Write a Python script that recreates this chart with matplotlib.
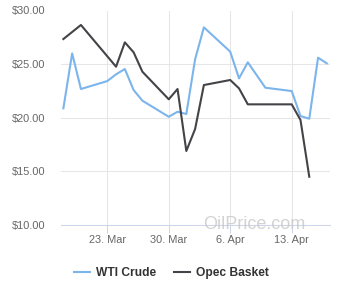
import matplotlib
matplotlib.use("Agg")
import matplotlib.pyplot as plt
import matplotlib.dates as mdates
from matplotlib.lines import Line2D
import pandas as pd

plt.rcParams['font.family'] = ['Liberation Sans', 'DejaVu Sans']

wti_dates = ["2020-03-18", "2020-03-19", "2020-03-20", "2020-03-23", "2020-03-24",
             "2020-03-25", "2020-03-26", "2020-03-27", "2020-03-30", "2020-03-31",
             "2020-04-01", "2020-04-02", "2020-04-03", "2020-04-06", "2020-04-07",
             "2020-04-08", "2020-04-10", "2020-04-13", "2020-04-14", "2020-04-15",
             "2020-04-16", "2020-04-17"]
wti_values = [20.88, 26.00, 22.68, 23.42, 24.05, 24.54, 22.58, 21.59, 20.09, 20.56,
              20.35, 25.45, 28.43, 26.16, 23.67, 25.17, 22.80, 22.49, 20.16, 19.91,
              25.60, 25.07]

opec_dates = ["2020-03-18", "2020-03-20", "2020-03-24", "2020-03-25", "2020-03-26",
              "2020-03-27", "2020-03-30", "2020-03-31", "2020-04-01", "2020-04-02",
              "2020-04-03", "2020-04-06", "2020-04-07", "2020-04-08", "2020-04-13",
              "2020-04-14", "2020-04-15"]
opec_values = [27.34, 28.65, 24.76, 27.03, 26.10, 24.29, 21.72, 22.68, 16.90, 18.95,
               23.05, 23.52, 22.74, 21.25, 21.25, 19.79, 14.50]

series_names = ["WTI Crude", "Opec Basket"]
series_colors = ["#7cb5ec", "#434348"]
y_ticks = [10, 15, 20, 25, 30]
x_tick_dates = ["2020-03-23", "2020-03-30", "2020-04-06", "2020-04-13"]
x_tick_labels = ["23. Mar", "30. Mar", "6. Apr", "13. Apr"]

fig = plt.figure(figsize=(3.4, 3.0), dpi=100)
ax = fig.add_axes([61/340, 75/300, (330-61)/340, (225-10.5)/300])

ax.plot(pd.to_datetime(wti_dates), wti_values, color=series_colors[0], lw=1.5,
        solid_joinstyle='round', zorder=3)
ax.plot(pd.to_datetime(opec_dates), opec_values, color=series_colors[1], lw=1.5,
        solid_joinstyle='round', zorder=3)

t0 = pd.Timestamp("2020-03-23")
ax.set_xlim(mdates.date2num(t0 - pd.Timedelta(days=5.27)),
            mdates.date2num(t0 + pd.Timedelta(days=25.36)))
ax.set_ylim(10, 30)

ax.set_yticks(y_ticks)
ax.set_yticklabels(["${:.2f}".format(v) for v in y_ticks])
ax.set_xticks(mdates.date2num(pd.to_datetime(x_tick_dates)))
ax.set_xticklabels(x_tick_labels)

ax.grid(True, color="#e6e6e6", lw=0.75, zorder=0)
ax.set_axisbelow(True)
for s in ["top", "right", "left"]:
    ax.spines[s].set_visible(False)
ax.spines["bottom"].set_color("#ccd6eb")
ax.spines["bottom"].set_linewidth(0.75)
ax.tick_params(axis='y', length=0, pad=11.5, labelsize=7.9, labelcolor="#666666")
ax.tick_params(axis='x', length=6, width=0.75, color="#ccd6eb", pad=1.5,
               labelsize=7.9, labelcolor="#666666")

fig.text(254.5/340, 1 - 224.5/300, "OilPrice.com", fontsize=13, color="#c8c8c8",
         alpha=0.8, ha="center", va="center", zorder=5)

handles = [Line2D([0], [0], color=c, lw=1.5) for c in series_colors]
leg = fig.legend(handles, series_names, loc="center", bbox_to_anchor=(171.3/340, 1 - 272.7/300),
                 ncol=2, frameon=False, handlelength=1.33, handletextpad=0.47,
                 columnspacing=1.5, prop={'size': 8.64, 'weight': 'bold'})
for t in leg.get_texts():
    t.set_color("#333333")

fig.savefig("out.png", dpi=100)
